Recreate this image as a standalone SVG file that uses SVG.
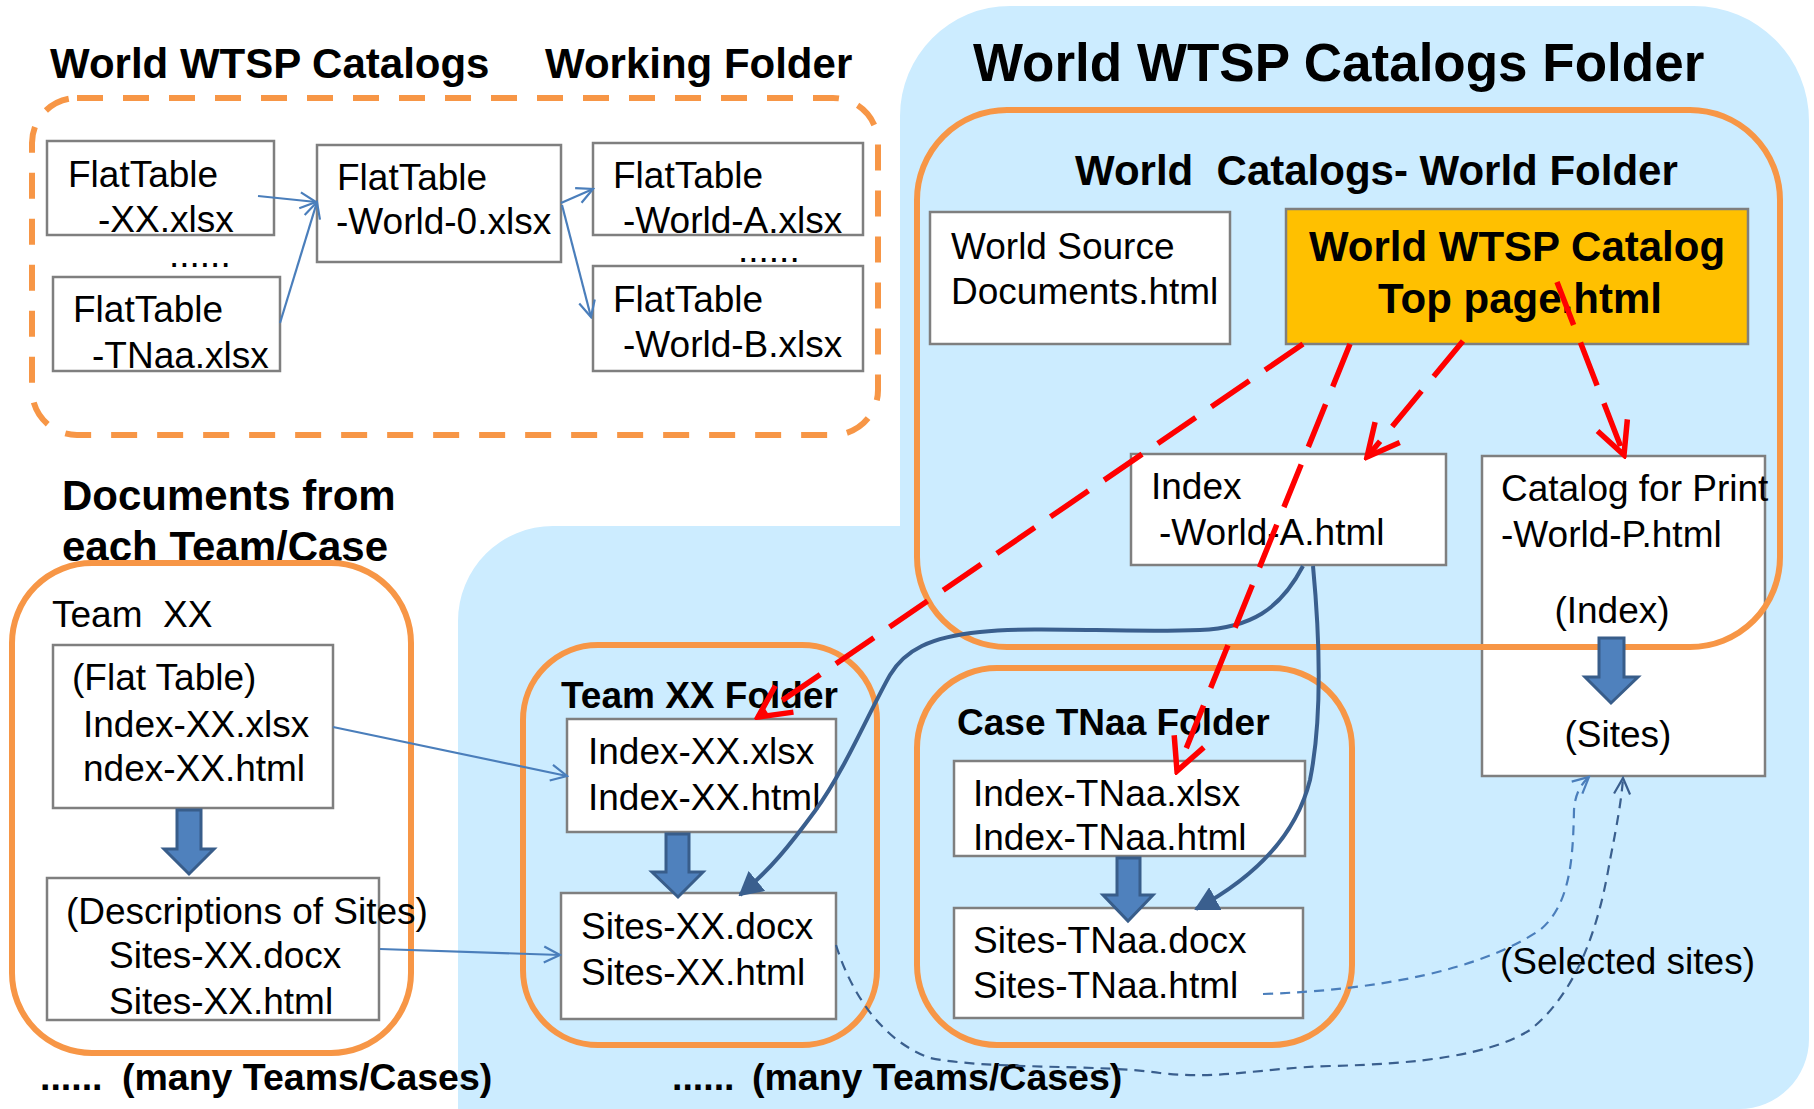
<svg xmlns="http://www.w3.org/2000/svg" width="1814" height="1109" viewBox="0 0 1814 1109">
<defs>
<style>
text{font-family:"Liberation Sans",Arial,sans-serif;fill:#000}
.t{font-size:37px}
.b{font-size:42px;font-weight:bold}
.bm{font-size:37px;font-weight:bold}
.bs{font-size:37.5px;font-weight:bold}
.box{fill:#fff;stroke:#7F7F7F;stroke-width:2.5}
.org{fill:none;stroke:#F79646;stroke-width:6}
.thick{fill:#4F81BD;stroke:#385D8A;stroke-width:3;stroke-linejoin:miter}
.thin{fill:none;stroke:#4A7EBB;stroke-width:2.2}
.red{fill:none;stroke:#FF0000;stroke-width:5.5;stroke-dasharray:46 19}
.dark{fill:none;stroke:#3A5F8E;stroke-width:4}
.dsh{fill:none;stroke-width:2.2;stroke-dasharray:10 7}
</style>
<marker id="ab" markerUnits="userSpaceOnUse" viewBox="0 0 20 20" refX="18" refY="10" markerWidth="20" markerHeight="20" orient="auto">
<path d="M2,2 L18,10 L2,18" fill="none" stroke="#4A7EBB" stroke-width="2.2"/>
</marker>
<marker id="abd" markerUnits="userSpaceOnUse" viewBox="0 0 20 20" refX="18" refY="10" markerWidth="20" markerHeight="20" orient="auto">
<path d="M2,2 L18,10 L2,18" fill="none" stroke="#3A5F8E" stroke-width="2.2"/>
</marker>
<marker id="ar" markerUnits="userSpaceOnUse" viewBox="0 0 40 40" refX="36" refY="20" markerWidth="40" markerHeight="40" orient="auto">
<path d="M4,4 L36,20 L4,36" fill="none" stroke="#FF0000" stroke-width="5.5" stroke-dasharray="none"/>
</marker>
<marker id="at" markerUnits="userSpaceOnUse" viewBox="0 0 24 26" refX="22" refY="13" markerWidth="24" markerHeight="26" orient="auto">
<path d="M0,0 L24,13 L0,26 Z" fill="#3A5F8E"/>
</marker>
</defs>
<rect width="1814" height="1109" fill="#fff"/>

<g id="working-folder">
<text class="b" x="50" y="78">World WTSP Catalogs</text>
<text class="b" x="545" y="78">Working Folder</text>
<rect x="32" y="98" width="846" height="337" rx="45" fill="none" stroke="#F79646" stroke-width="6" stroke-dasharray="26 20"/>
</g>
<g id="ft-xx"><rect class="box" x="47" y="141" width="227" height="94"/><text class="t" x="68" y="187">FlatTable</text><text class="t" x="98" y="232">-XX.xlsx</text></g>
<text class="t" x="169" y="267">......</text>
<g id="ft-tnaa"><rect class="box" x="53" y="277" width="227" height="94"/><text class="t" x="73" y="322">FlatTable</text><text class="t" x="92" y="368">-TNaa.xlsx</text></g>
<g id="ft-world0"><rect class="box" x="317" y="145" width="244" height="117"/><text class="t" x="337" y="190">FlatTable</text><text class="t" x="336" y="234">-World-0.xlsx</text></g>
<g id="ft-worldA"><rect class="box" x="593" y="143" width="270" height="92"/><text class="t" x="613" y="188">FlatTable</text><text class="t" x="623" y="233">-World-A.xlsx</text></g>
<text class="t" x="738" y="262">......</text>
<g id="ft-worldB"><rect class="box" x="593" y="266" width="270" height="105"/><text class="t" x="613" y="312">FlatTable</text><text class="t" x="623" y="357">-World-B.xlsx</text></g>

<g id="catalogs-folder">
<path d="M458,1109 L458,621 A95,95 0 0 1 553,526 L900,526 L900,116 A110,110 0 0 1 1010,6 L1694,6 A115,115 0 0 1 1809,121 L1809,1039 A70,70 0 0 1 1739,1109 Z" fill="#CCECFF"/>
<text x="973" y="81" style="font-size:53px;font-weight:bold">World WTSP Catalogs Folder</text>
</g>

<g id="docs-team">
<text class="b" x="62" y="510">Documents from</text>
<text class="b" x="62" y="561">each Team/Case</text>
<rect class="org" x="12" y="563" width="399" height="490" rx="80"/>
<text class="t" x="52" y="627" xml:space="preserve">Team  XX</text>
</g>
<g id="flat-table-xx"><rect class="box" x="53" y="645" width="280" height="163"/><text class="t" x="72" y="690">(Flat Table)</text><text class="t" x="83" y="737">Index-XX.xlsx</text><text class="t" x="83" y="781">ndex-XX.html</text></g>
<g id="desc-sites-xx"><rect class="box" x="47" y="878" width="332" height="142"/><text class="t" x="66" y="924">(Descriptions of Sites)</text><text class="t" x="109" y="968">Sites-XX.docx</text><text class="t" x="109" y="1014">Sites-XX.html</text></g>
<text class="bs" x="40" y="1090">......</text>
<text class="bs" x="122" y="1090">(many Teams/Cases)</text>

<g id="team-xx-folder">
<rect class="org" x="523" y="645" width="354" height="400" rx="75"/>
<text class="bm" x="561" y="708">Team XX Folder</text>
</g>
<g id="index-xx"><rect class="box" x="567" y="719" width="269" height="113"/><text class="t" x="588" y="764">Index-XX.xlsx</text><text class="t" x="588" y="810">Index-XX.html</text></g>
<g id="sites-xx"><rect class="box" x="561" y="893" width="275" height="126"/><text class="t" x="581" y="939">Sites-XX.docx</text><text class="t" x="581" y="985">Sites-XX.html</text></g>

<g id="case-tnaa-folder">
<rect class="org" x="917" y="668" width="435" height="377" rx="80"/>
<text class="bm" x="957" y="735">Case TNaa Folder</text>
</g>
<g id="index-tnaa"><rect class="box" x="954" y="761" width="351" height="95"/><text class="t" x="973" y="806">Index-TNaa.xlsx</text><text class="t" x="973" y="850">Index-TNaa.html</text></g>
<g id="sites-tnaa"><rect class="box" x="954" y="908" width="349" height="110"/><text class="t" x="973" y="953">Sites-TNaa.docx</text><text class="t" x="973" y="998">Sites-TNaa.html</text></g>
<text class="bs" x="672" y="1090">......</text>
<text class="bs" x="752" y="1090">(many Teams/Cases)</text>

<g id="world-source"><rect class="box" x="930" y="212" width="300" height="132"/><text class="t" x="951" y="259">World Source</text><text class="t" x="951" y="304">Documents.html</text></g>
<g id="top-page"><rect x="1286" y="209" width="462" height="135" fill="#FFC000" stroke="#7F7F7F" stroke-width="2.5"/><text class="b" x="1517" y="261" text-anchor="middle">World WTSP Catalog</text><text class="b" x="1520" y="313" text-anchor="middle">Top page.html</text></g>
<g id="index-world-a"><rect class="box" x="1131" y="454" width="315" height="111"/><text class="t" x="1151" y="499">Index</text><text class="t" x="1159" y="545">-World-A.html</text></g>
<g id="catalog-print"><rect class="box" x="1482" y="456" width="283" height="320"/><text class="t" x="1501" y="501">Catalog for Print</text><text class="t" x="1501" y="547">-World-P.html</text><text class="t" x="1612" y="623" text-anchor="middle">(Index)</text><text class="t" x="1618" y="747" text-anchor="middle">(Sites)</text></g>
<g id="world-folder">
<rect class="org" x="917" y="110" width="863" height="537" rx="90"/>
<text class="b" x="1075" y="185" xml:space="preserve">World  Catalogs- World Folder</text>
</g>
<text class="t" x="1500" y="974">(Selected sites)</text>

<g id="connectors">
<path class="thick" d="M1599,638 L1624,638 L1624,677 L1638,677 L1611,703 L1585,677 L1599,677 Z"/>
<path class="thick" d="M177,810 L201,810 L201,849 L214,849 L189,874 L164,849 L177,849 Z"/>
<path class="thick" d="M666,834 L689,834 L689,872 L703,872 L678,897 L652,872 L666,872 Z"/>
<path class="thick" d="M1117,858 L1140,858 L1140,895 L1153,895 L1128,921 L1103,895 L1117,895 Z"/>

<path class="thin" d="M258,196 L316,202" marker-end="url(#ab)"/>
<path class="thin" d="M280,323 L317,202" marker-end="url(#ab)"/>
<path class="thin" d="M561,203 L593,189" marker-end="url(#ab)"/>
<path class="thin" d="M562,205 L591,317" marker-end="url(#ab)"/>
<path class="thin" d="M333,727 L567,776" marker-end="url(#ab)"/>
<path class="thin" d="M380,949 L560,955" marker-end="url(#ab)"/>

<path class="dark" d="M1303,566 C1280,610 1250,628 1200,630 C1120,633 1040,626 980,632 C930,637 905,650 890,675 C870,710 845,770 815,811 C790,845 770,870 740,895" marker-end="url(#at)"/>
<path class="dark" d="M1313,566 C1320,640 1322,720 1310,780 C1295,840 1250,880 1196,909" marker-end="url(#at)"/>

<path class="dsh" stroke="#4A7EBB" d="M1263,994 C1380,990 1480,970 1540,930 C1570,905 1573,860 1574,810 C1575,795 1580,785 1589,777" marker-end="url(#ab)"/>
<path class="dsh" stroke="#3A5F8E" d="M836,945 C850,990 880,1040 930,1058 C990,1070 1100,1064 1160,1073 C1220,1080 1260,1068 1330,1066 C1420,1064 1490,1055 1530,1030 C1580,990 1600,920 1610,860 C1618,820 1622,795 1623,778" marker-end="url(#abd)"/>

<path class="red" d="M1303,344 L758,717" marker-end="url(#ar)"/>
<path class="red" d="M1350,344 L1177,771" marker-end="url(#ar)"/>
<path class="red" d="M1463,341 L1367,457" marker-end="url(#ar)"/>
<path class="red" d="M1557,282 L1624,455" marker-end="url(#ar)"/>
</g>
</svg>
